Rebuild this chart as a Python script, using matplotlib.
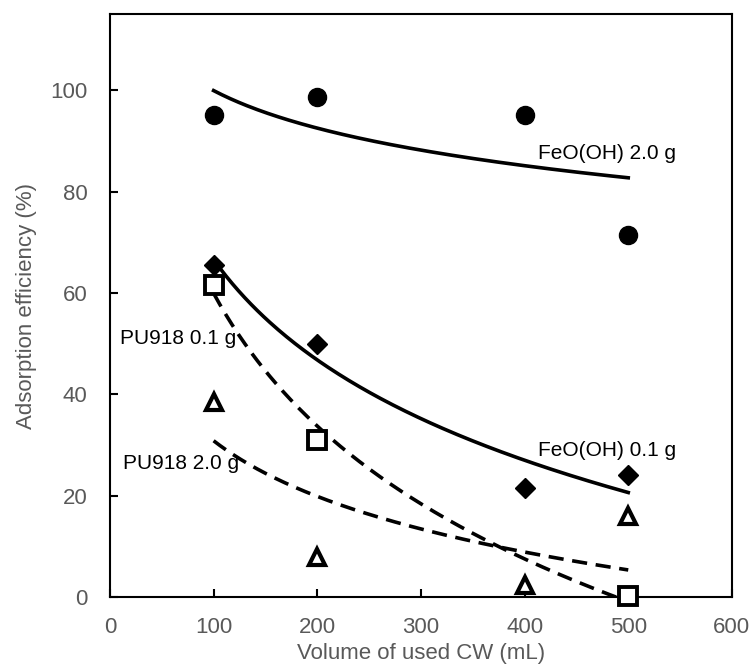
import numpy as np
import matplotlib
matplotlib.use("Agg")
import matplotlib.pyplot as plt

plt.rcParams['font.family'] = ['Liberation Sans', 'DejaVu Sans']

# data
vol = [100, 200, 400, 500]
feooh_20 = [95.0, 98.7, 95.0, 71.5]
feooh_01 = [65.5, 50.0, 21.5, 24.0]
pu_vol = [100, 200, 500]
pu918_01 = [61.5, 31.0, 0.3]
pu918_20 = [38.5, 8.0, 2.5, 16.0]

gray = '#595959'

def log_fit(x, y):
    # Excel-style logarithmic trendline y = a + b ln(x)
    b, a = np.polyfit(np.log(x), y, 1)
    xs = np.linspace(min(x), max(x), 200)
    return xs, a + b * np.log(xs)

fig = plt.figure(figsize=(7.53, 6.68), dpi=100)
ax = fig.add_axes([0.146, 0.106, 0.826, 0.873])

for x, y, ls in [(vol, feooh_20, '-'), (vol, feooh_01, '-'),
                 (pu_vol, pu918_01, (0, (4.2, 2.4))), (vol, pu918_20, (0, (4.2, 2.4)))]:
    xs, ys = log_fit(x, y)
    ax.plot(xs, ys, color='black', lw=2.6, linestyle=ls, zorder=2)

ax.plot(vol, feooh_20, 'o', ms=13, color='black', zorder=3, clip_on=False)
ax.plot(vol, feooh_01, 'D', ms=10, color='black', zorder=3, clip_on=False)
ax.plot(pu_vol, pu918_01, 's', ms=13, mfc='white', mec='black', mew=2.8, zorder=3, clip_on=False)
ax.plot(vol, pu918_20, '^', ms=12, mfc='white', mec='black', mew=3.0, zorder=3, clip_on=False)

ax.text(413, 87.4, 'FeO(OH) 2.0 g', fontsize=15, va='center', ha='left')
ax.text(413, 29.0, 'FeO(OH) 0.1 g', fontsize=15, va='center', ha='left')
ax.text(10, 51.0, 'PU918 0.1 g', fontsize=15, va='center', ha='left')
ax.text(12.5, 26.3, 'PU918 2.0 g', fontsize=15, va='center', ha='left')

ax.set_xlim(0, 600)
ax.set_ylim(0, 115)
ax.set_xticks(range(0, 601, 100))
ax.set_yticks(range(0, 101, 20))
ax.tick_params(direction='in', length=6, width=1.5, colors='black',
               labelcolor=gray, labelsize=16)
ax.tick_params(axis='x', pad=14)
ax.tick_params(axis='y', pad=16)
for s in ax.spines.values():
    s.set_linewidth(1.5)
ax.set_xlabel('Volume of used CW (mL)', fontsize=16, color=gray, labelpad=4)
ax.set_ylabel('Adsorption efficiency (%)', fontsize=16, color=gray, labelpad=10)

fig.savefig('out.png', dpi=100)
